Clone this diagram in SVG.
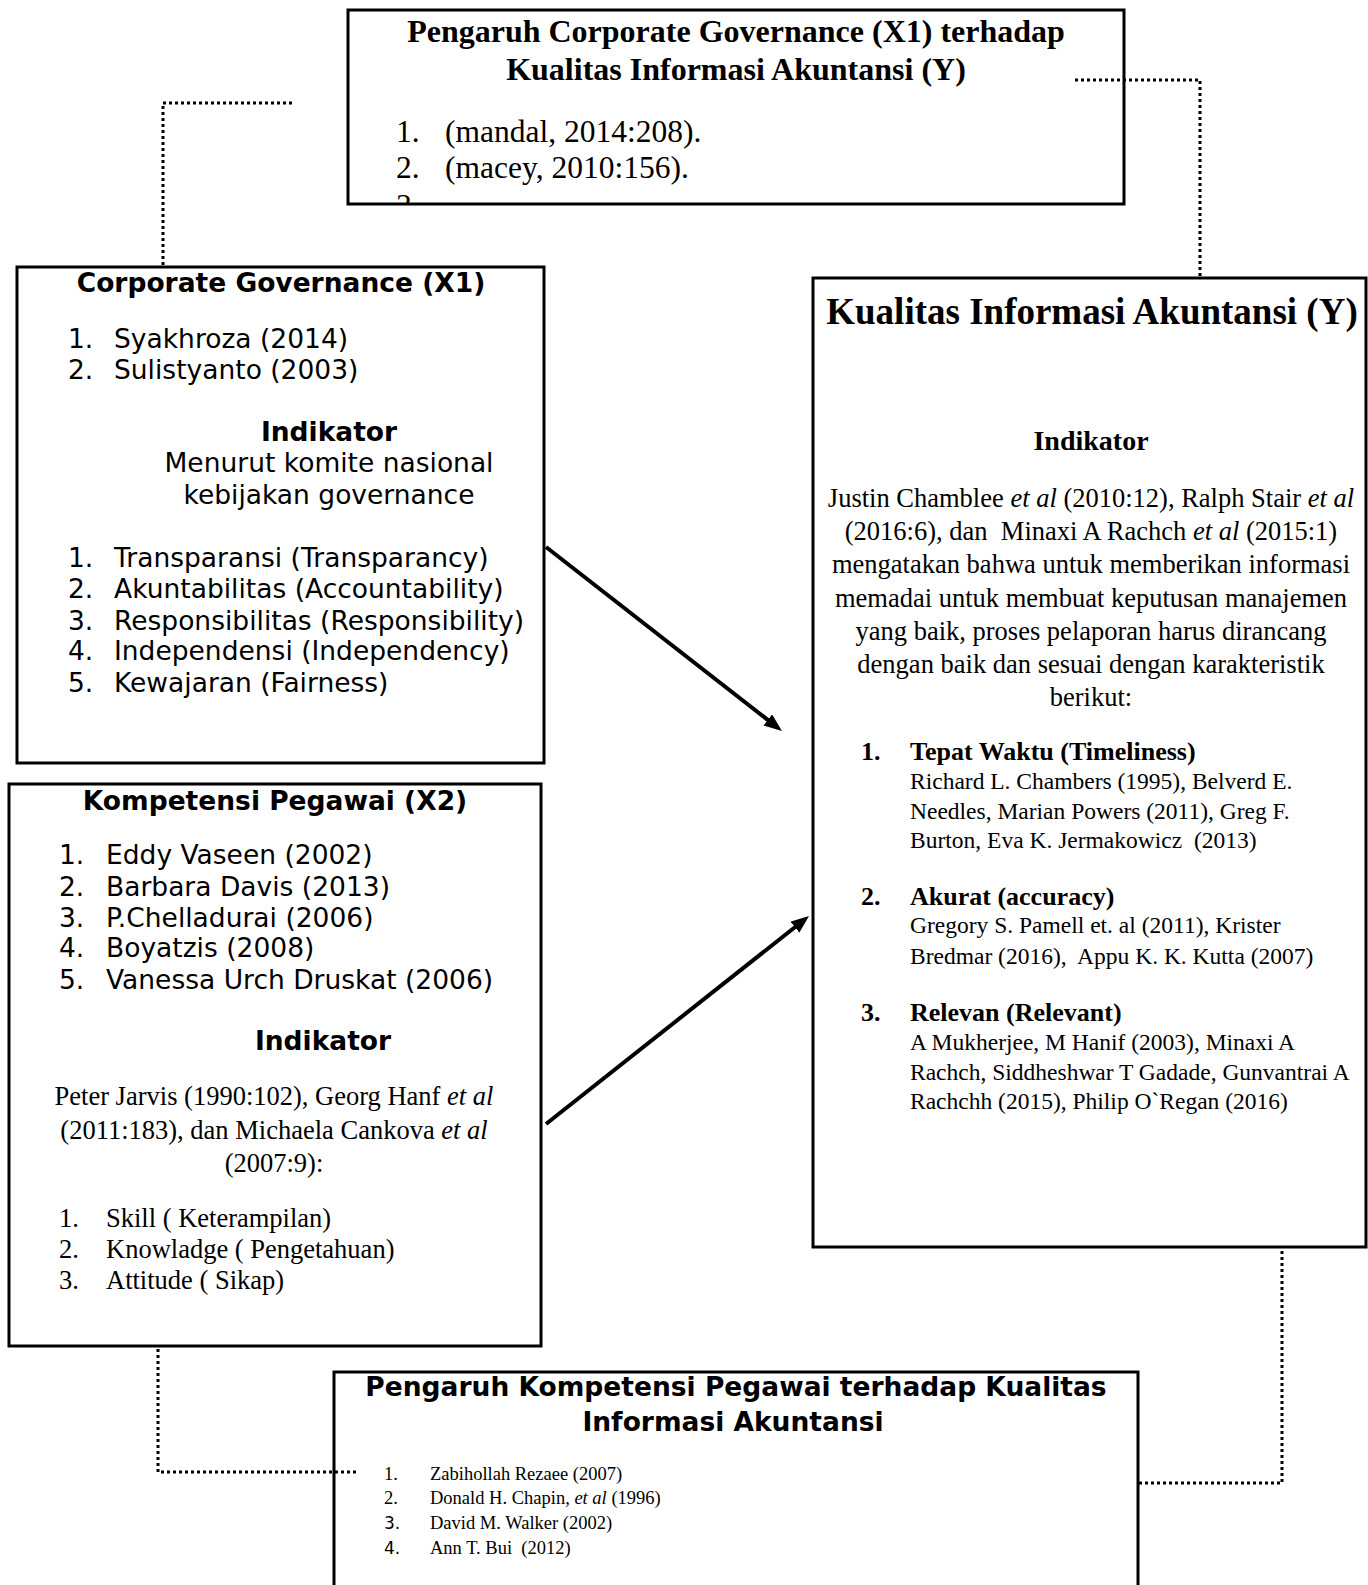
<svg xmlns="http://www.w3.org/2000/svg" width="1368" height="1585" viewBox="0 0 1368 1585">
<style>
.box{fill:#fff;stroke:#000;stroke-width:3}
.dot{fill:none;stroke:#000;stroke-width:3;stroke-dasharray:3 3}
.arr{fill:none;stroke:#000;stroke-width:4}
.sans{font-family:"DejaVu Sans",sans-serif;font-size:26.5px;fill:#000}
.sb{font-family:"DejaVu Sans",sans-serif;font-size:26.5px;font-weight:bold;fill:#000}
.ser{font-family:"Liberation Serif","Times New Roman",serif;fill:#000}
.serb{font-family:"Liberation Serif","Times New Roman",serif;font-weight:bold;fill:#000}
.mid{text-anchor:middle}
.pre{white-space:pre}
</style>
<defs>
<marker id="ah" markerUnits="userSpaceOnUse" markerWidth="20" markerHeight="16" refX="8" refY="7" orient="auto">
<path d="M0,0 L18,7 L0,14 z" fill="#000"/>
</marker>
<clipPath id="topclip"><rect x="349" y="11" width="774" height="192"/></clipPath>
</defs>
<rect width="1368" height="1585" fill="#fff"/>

<g id="node-top">
<rect class="box" x="348" y="10" width="776" height="194"/>
<text class="serb mid" x="736" y="42" font-size="32">Pengaruh Corporate Governance (X1) terhadap</text>
<text class="serb mid" x="736" y="80" font-size="32">Kualitas Informasi Akuntansi (Y)</text>
<g clip-path="url(#topclip)">
<text class="ser" font-size="31.5" x="396" y="142">1.</text>
<text class="ser" font-size="31.5" x="445" y="142">(mandal, 2014:208).</text>
<text class="ser" font-size="31.5" x="396" y="178">2.</text>
<text class="ser" font-size="31.5" x="445" y="178">(macey, 2010:156).</text>
<text class="ser" font-size="31.5" x="396" y="216">3.</text>
</g>
</g>

<g id="node-x1">
<rect class="box" x="17" y="267" width="527" height="496"/>
<text class="sb mid" x="281" y="292">Corporate Governance (X1)</text>
<text class="sans" x="68" y="348">1.</text><text class="sans" x="114" y="348">Syakhroza (2014)</text>
<text class="sans" x="68" y="379">2.</text><text class="sans" x="114" y="379">Sulistyanto (2003)</text>
<text class="sb mid" x="329" y="441">Indikator</text>
<text class="sans mid" x="329" y="472">Menurut komite nasional</text>
<text class="sans mid" x="329" y="504">kebijakan governance</text>
<text class="sans" x="68" y="567">1.</text><text class="sans" x="114" y="567">Transparansi (Transparancy)</text>
<text class="sans" x="68" y="598">2.</text><text class="sans" x="114" y="598">Akuntabilitas (Accountability)</text>
<text class="sans" x="68" y="630">3.</text><text class="sans" x="114" y="630">Responsibilitas (Responsibility)</text>
<text class="sans" x="68" y="660">4.</text><text class="sans" x="114" y="660">Independensi (Independency)</text>
<text class="sans" x="68" y="692">5.</text><text class="sans" x="114" y="692">Kewajaran (Fairness)</text>
</g>

<g id="node-x2">
<rect class="box" x="9" y="784" width="532" height="562"/>
<text class="sb mid" x="275" y="810">Kompetensi Pegawai (X2)</text>
<text class="sans" x="59" y="864">1.</text><text class="sans" x="106" y="864">Eddy Vaseen (2002)</text>
<text class="sans" x="59" y="896">2.</text><text class="sans" x="106" y="896">Barbara Davis (2013)</text>
<text class="sans" x="59" y="927">3.</text><text class="sans" x="106" y="927">P.Chelladurai (2006)</text>
<text class="sans" x="59" y="957">4.</text><text class="sans" x="106" y="957">Boyatzis (2008)</text>
<text class="sans" x="59" y="989">5.</text><text class="sans" x="106" y="989">Vanessa Urch Druskat (2006)</text>
<text class="sb mid" x="323" y="1050">Indikator</text>
<text class="ser mid" font-size="26.5" x="274" y="1105">Peter Jarvis (1990:102), Georg Hanf <tspan font-style="italic">et al</tspan></text>
<text class="ser mid" font-size="26.5" x="274" y="1139">(2011:183), dan Michaela Cankova <tspan font-style="italic">et al</tspan></text>
<text class="ser mid" font-size="26.5" x="274" y="1172">(2007:9):</text>
<text class="ser" font-size="26.5" x="59" y="1227">1.</text><text class="ser" font-size="26.5" x="106" y="1227">Skill ( Keterampilan)</text>
<text class="ser" font-size="26.5" x="59" y="1258">2.</text><text class="ser" font-size="26.5" x="106" y="1258">Knowladge ( Pengetahuan)</text>
<text class="ser" font-size="26.5" x="59" y="1289">3.</text><text class="ser" font-size="26.5" x="106" y="1289">Attitude ( Sikap)</text>
</g>

<g id="node-y">
<rect class="box" x="813" y="278" width="553" height="969"/>
<text class="serb mid" font-size="37" x="1092" y="324">Kualitas Informasi Akuntansi (Y)</text>
<text class="serb mid" font-size="28" x="1091" y="450">Indikator</text>
<text class="ser mid" font-size="26.5" x="1091" y="507">Justin Chamblee <tspan font-style="italic">et al</tspan> (2010:12), Ralph Stair <tspan font-style="italic">et al</tspan></text>
<text class="ser mid pre" font-size="26.5" x="1091" y="540">(2016:6), dan  Minaxi A Rachch <tspan font-style="italic">et al</tspan> (2015:1)</text>
<text class="ser mid" font-size="26.5" x="1091" y="573">mengatakan bahwa untuk memberikan informasi</text>
<text class="ser mid" font-size="26.5" x="1091" y="607">memadai untuk membuat keputusan manajemen</text>
<text class="ser mid" font-size="26.5" x="1091" y="640">yang baik, proses pelaporan harus dirancang</text>
<text class="ser mid" font-size="26.5" x="1091" y="673">dengan baik dan sesuai dengan karakteristik</text>
<text class="ser mid" font-size="26.5" x="1091" y="706">berikut:</text>
<text class="serb" font-size="26" x="861" y="760">1.</text><text class="serb" font-size="26" x="910" y="760">Tepat Waktu (Timeliness)</text>
<text class="ser" font-size="23.5" x="910" y="789">Richard L. Chambers (1995), Belverd E.</text>
<text class="ser" font-size="23.5" x="910" y="819">Needles, Marian Powers (2011), Greg F.</text>
<text class="ser pre" font-size="23.5" x="910" y="848">Burton, Eva K. Jermakowicz  (2013)</text>
<text class="serb" font-size="26" x="861" y="905">2.</text><text class="serb" font-size="26" x="910" y="905">Akurat (accuracy)</text>
<text class="ser" font-size="23.5" x="910" y="933">Gregory S. Pamell et. al (2011), Krister</text>
<text class="ser pre" font-size="23.5" x="910" y="964">Bredmar (2016),  Appu K. K. Kutta (2007)</text>
<text class="serb" font-size="26" x="861" y="1021">3.</text><text class="serb" font-size="26" x="910" y="1021">Relevan (Relevant)</text>
<text class="ser" font-size="23.5" x="910" y="1050">A Mukherjee, M Hanif (2003), Minaxi A</text>
<text class="ser" font-size="23.5" x="910" y="1080">Rachch, Siddheshwar T Gadade, Gunvantrai A</text>
<text class="ser" font-size="23.5" x="910" y="1109">Rachchh (2015), Philip O`Regan (2016)</text>
</g>

<g id="node-bottom">
<path class="box" d="M334,1600 L334,1372 L1138,1372 L1138,1600"/>
<text class="sb mid" x="736" y="1396">Pengaruh Kompetensi Pegawai terhadap Kualitas</text>
<text class="sb mid" x="733" y="1431">Informasi Akuntansi</text>
<text class="ser" font-size="18.5" x="384" y="1480">1.</text><text class="ser" font-size="18.5" x="430" y="1480">Zabihollah Rezaee (2007)</text>
<text class="ser" font-size="18.5" x="384" y="1504">2.</text><text class="ser" font-size="18.5" x="430" y="1504">Donald H. Chapin, <tspan font-style="italic">et al</tspan> (1996)</text>
<text class="sans" style="font-size:17px" x="384" y="1529">3.</text><text class="ser" font-size="18.5" x="430" y="1529">David M. Walker (2002)</text>
<text class="sans" style="font-size:17px" x="384" y="1554">4.</text><text class="ser pre" font-size="18.5" x="430" y="1554">Ann T. Bui  (2012)</text>
</g>

<g id="connectors">
<polyline class="dot" points="292,103 163,103 163,267"/>
<polyline class="dot" points="1075,80 1200,80 1200,276"/>
<polyline class="dot" points="158,1349 158,1472 358,1472"/>
<polyline class="dot" points="1139,1483 1282,1483 1282,1249"/>
<line class="arr" x1="546" y1="547" x2="774.1" y2="724.8" marker-end="url(#ah)"/>
<line class="arr" x1="546" y1="1124" x2="801.2" y2="922.2" marker-end="url(#ah)"/>
</g>
</svg>
